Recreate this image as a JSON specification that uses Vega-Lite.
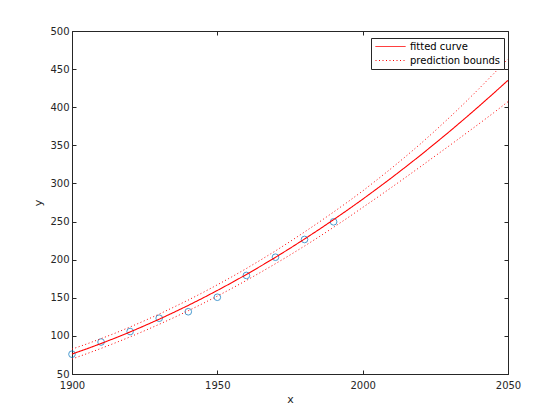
{
  "$schema": "https://vega.github.io/schema/vega-lite/v6.json",
  "width": 436,
  "height": 343,
  "autosize": {"type": "none"},
  "padding": {"left": 72, "top": 31, "right": 52, "bottom": 46},
  "background": "white",
  "config": {
    "font": "DejaVu Sans",
    "view": {"stroke": "#262626", "strokeWidth": 1},
    "axis": {
      "grid": false,
      "domainColor": "#262626",
      "tickColor": "#262626",
      "labelColor": "#262626",
      "titleColor": "#262626",
      "labelFontSize": 10,
      "titleFontSize": 11,
      "titleFontWeight": "normal",
      "tickSize": -4,
      "labelPadding": 4,
      "labelFlush": false,
      "labelOverlap": false
    }
  },
  "datasets": {
    "curve": [
      {"x": 1900, "fit": 76.2, "lo": 69.7, "hi": 82.7},
      {"x": 1905, "fit": 82.9, "lo": 76.5, "hi": 89.3},
      {"x": 1910, "fit": 90.0, "lo": 83.6, "hi": 96.4},
      {"x": 1915, "fit": 97.4, "lo": 91.0, "hi": 103.8},
      {"x": 1920, "fit": 105.2, "lo": 98.7, "hi": 111.7},
      {"x": 1925, "fit": 113.4, "lo": 106.8, "hi": 120.0},
      {"x": 1930, "fit": 121.9, "lo": 115.2, "hi": 128.6},
      {"x": 1935, "fit": 130.8, "lo": 123.9, "hi": 137.7},
      {"x": 1940, "fit": 140.0, "lo": 133.0, "hi": 147.0},
      {"x": 1945, "fit": 149.6, "lo": 142.4, "hi": 156.8},
      {"x": 1950, "fit": 159.6, "lo": 152.2, "hi": 167.0},
      {"x": 1955, "fit": 169.9, "lo": 162.3, "hi": 177.5},
      {"x": 1960, "fit": 180.6, "lo": 172.8, "hi": 188.4},
      {"x": 1965, "fit": 191.7, "lo": 183.6, "hi": 199.8},
      {"x": 1970, "fit": 203.1, "lo": 194.7, "hi": 211.5},
      {"x": 1975, "fit": 214.9, "lo": 206.1, "hi": 223.7},
      {"x": 1980, "fit": 227.1, "lo": 217.9, "hi": 236.3},
      {"x": 1985, "fit": 239.6, "lo": 230.0, "hi": 249.2},
      {"x": 1990, "fit": 252.5, "lo": 242.5, "hi": 262.5},
      {"x": 1995, "fit": 265.7, "lo": 255.3, "hi": 276.1},
      {"x": 2000, "fit": 279.3, "lo": 268.5, "hi": 290.1},
      {"x": 2005, "fit": 293.3, "lo": 281.6, "hi": 305.0},
      {"x": 2010, "fit": 307.6, "lo": 295.0, "hi": 320.2},
      {"x": 2015, "fit": 322.3, "lo": 308.6, "hi": 336.0},
      {"x": 2020, "fit": 337.3, "lo": 322.3, "hi": 352.3},
      {"x": 2025, "fit": 352.8, "lo": 336.2, "hi": 369.4},
      {"x": 2030, "fit": 368.5, "lo": 350.0, "hi": 387.0},
      {"x": 2035, "fit": 384.7, "lo": 364.1, "hi": 405.3},
      {"x": 2040, "fit": 401.2, "lo": 378.2, "hi": 424.2},
      {"x": 2045, "fit": 418.1, "lo": 392.5, "hi": 443.7},
      {"x": 2050, "fit": 435.3, "lo": 407.3, "hi": 463.3}
    ],
    "census": [
      {"x": 1900, "y": 75.995},
      {"x": 1910, "y": 91.972},
      {"x": 1920, "y": 105.711},
      {"x": 1930, "y": 123.203},
      {"x": 1940, "y": 131.669},
      {"x": 1950, "y": 150.697},
      {"x": 1960, "y": 179.323},
      {"x": 1970, "y": 203.212},
      {"x": 1980, "y": 226.505},
      {"x": 1990, "y": 249.633}
    ]
  },
  "resolve": {"axis": {"x": "independent", "y": "independent"}},
  "layer": [
    {
      "data": {"name": "census"},
      "mark": {"type": "point", "shape": "circle", "filled": false, "color": "#0072BD", "size": 44, "strokeWidth": 1},
      "encoding": {
        "x": {"field": "x", "type": "quantitative", "scale": {"domain": [1900, 2050], "nice": false, "zero": false},
              "axis": {"orient": "bottom", "title": "x", "values": [1900, 1950, 2000, 2050], "format": "d", "labelPadding": 10, "titlePadding": 3}},
        "y": {"field": "y", "type": "quantitative", "scale": {"domain": [50, 500], "nice": false, "zero": false},
              "axis": {"orient": "left", "title": "y", "values": [50, 100, 150, 200, 250, 300, 350, 400, 450, 500], "labelPadding": 7, "titlePadding": 6}}
      }
    },
    {
      "data": {"name": "curve"},
      "mark": {"type": "line", "color": "red", "strokeWidth": 1.1},
      "encoding": {
        "x": {"field": "x", "type": "quantitative",
              "axis": {"orient": "top", "title": null, "labels": false, "values": [1900, 1950, 2000, 2050], "domain": false}},
        "y": {"field": "fit", "type": "quantitative",
              "axis": {"orient": "right", "title": null, "labels": false, "values": [50, 100, 150, 200, 250, 300, 350, 400, 450, 500], "domain": false}},
        "strokeDash": {"datum": "fitted curve", "type": "nominal",
                       "scale": {"domain": ["fitted curve", "prediction bounds"], "range": [[1, 0], [1, 2.5]]},
                       "legend": {"title": null, "orient": "none", "legendX": 299, "legendY": 7,
                                  "strokeColor": "#262626", "fillColor": "white", "padding": 3,
                                  "labelFontSize": 10, "labelColor": "black",
                                  "symbolType": "M-3,0H3", "symbolSize": 100, "symbolStrokeColor": "red",
                                  "symbolStrokeWidth": 1, "rowPadding": 3,
                                  "symbolOffset": 11, "labelOffset": 14}}
      }
    },
    {
      "data": {"name": "curve"},
      "transform": [{"fold": ["hi", "lo"], "as": ["bound", "value"]}],
      "mark": {"type": "line", "color": "red", "strokeWidth": 1},
      "encoding": {
        "x": {"field": "x", "type": "quantitative", "axis": null},
        "y": {"field": "value", "type": "quantitative", "axis": null},
        "detail": {"field": "bound"},
        "strokeDash": {"datum": "prediction bounds", "type": "nominal"}
      }
    }
  ]
}
